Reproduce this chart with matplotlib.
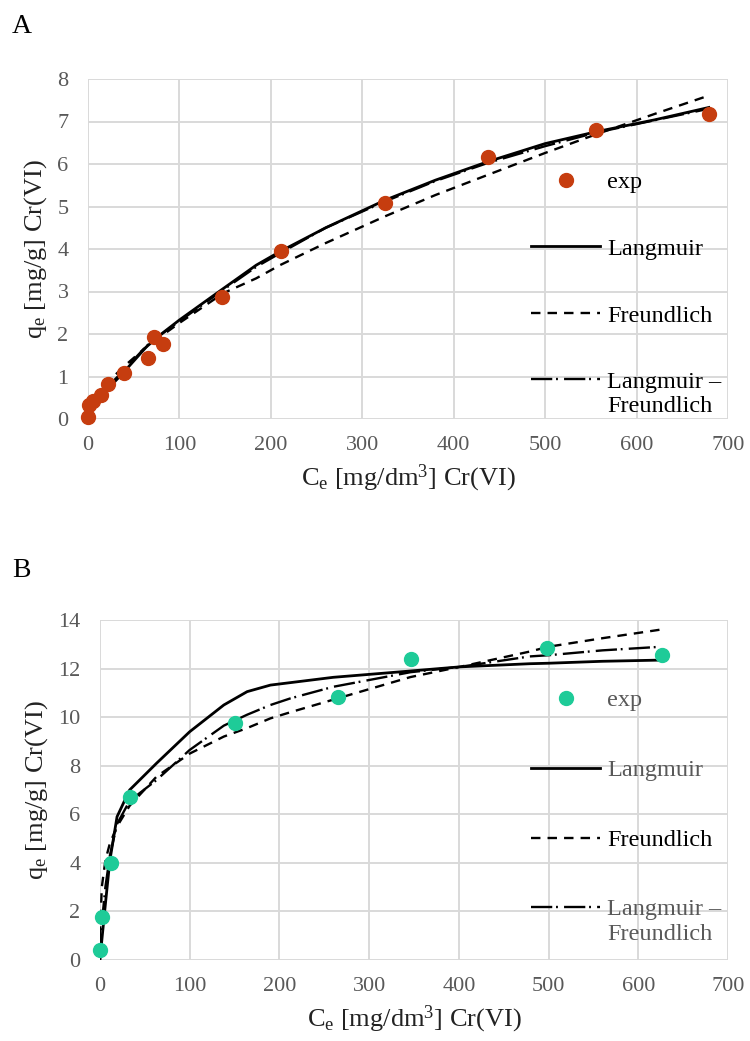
import matplotlib
matplotlib.use("Agg")
import matplotlib.pyplot as plt
from matplotlib.legend_handler import HandlerLine2D

plt.rcParams["font.family"] = ["Liberation Serif", "DejaVu Serif"]
plt.rcParams["mathtext.fontset"] = "custom"
plt.rcParams["mathtext.rm"] = "Liberation Serif"
plt.rcParams["mathtext.it"] = "Liberation Serif:italic"

# --- panel A: experimental points ---
ce_a = [0, 1.5, 6, 14, 22, 39, 66, 72, 82, 146.5, 210.8, 325, 438, 556, 679]
qe_a = [0.05, 0.33, 0.43, 0.57, 0.82, 1.09, 1.43, 1.92, 1.76, 2.86, 3.95, 5.08, 6.16, 6.81, 7.17]

# --- panel A: model curves ---
cfit_a = [0, 6, 14, 28, 39, 64, 82, 100, 148, 184, 210, 260, 325, 380, 438, 500, 556, 620, 679]
lang_a = [0.08, 0.25, 0.47, 0.85, 1.10, 1.70, 2.03, 2.33, 3.07, 3.62, 3.94, 4.50, 5.15, 5.62, 6.06, 6.48, 6.76, 7.04, 7.33]
freu_a = [0.10, 0.37, 0.64, 1.00, 1.23, 1.70, 1.98, 2.26, 2.96, 3.31, 3.62, 4.14, 4.77, 5.27, 5.75, 6.26, 6.70, 7.18, 7.61]
lf_a = [0.10, 0.30, 0.52, 0.90, 1.14, 1.72, 2.02, 2.30, 3.04, 3.58, 3.90, 4.50, 5.12, 5.60, 6.03, 6.42, 6.74, 7.03, 7.30]

# --- panel B: experimental points ---
ce_b = [0, 1.9, 11.9, 33.4, 150, 265.7, 346.3, 498.7, 626]
qe_b = [0.41, 1.78, 3.98, 6.70, 9.77, 10.84, 12.38, 12.86, 12.56]

# --- panel B: model curves ---
cfit_b = [0, 2, 6, 11, 19, 33, 63, 100, 138, 164, 190, 212, 260, 346, 401, 479, 500, 560, 626]
lang_b = [0.0, 0.8, 2.3, 4.1, 5.9, 7.0, 8.1, 9.4, 10.5, 11.05, 11.32, 11.42, 11.64, 11.90, 12.07, 12.20, 12.22, 12.30, 12.35]
freu_b = [1.0, 3.0, 4.1, 4.8, 5.5, 6.35, 7.55, 8.5, 9.2, 9.55, 9.95, 10.2, 10.72, 11.65, 12.07, 12.7, 12.9, 13.25, 13.61]
lf_b = [0.2, 1.5, 3.0, 4.3, 5.6, 6.55, 7.41, 8.65, 9.65, 10.1, 10.5, 10.77, 11.25, 11.85, 12.07, 12.5, 12.55, 12.75, 12.9]

x_ticks = [0, 100, 200, 300, 400, 500, 600, 700]
y_ticks_a = [0, 1, 2, 3, 4, 5, 6, 7, 8]
y_ticks_b = [0, 2, 4, 6, 8, 10, 12, 14]

labels = ["exp", "Langmuir", "Freundlich", "Langmuir –\nFreundlich"]

GRID = "#d9d9d9"
TICK = "#595959"
LABEL = "#222222"
RED = "#c63d0f"
TEAL = "#1ecb98"
LEG_FS = 17.5


class TopLineHandler(HandlerLine2D):
    """Put the legend line next to the first line of a two-line label."""

    def create_artists(self, legend, orig_handle, xdescent, ydescent,
                       width, height, fontsize, trans):
        artists = super().create_artists(legend, orig_handle, xdescent, ydescent,
                                         width, height, fontsize, trans)
        for a in artists:
            a.set_ydata([y + 0.6 * fontsize for y in a.get_ydata()])
        return artists


def style_axes(ax, yticks):
    ax.set_xlim(0, 700)
    ax.set_ylim(yticks[0], yticks[-1])
    ax.set_xticks(x_ticks)
    ax.set_yticks(yticks)
    ax.grid(True, color=GRID, lw=1.4)
    ax.set_axisbelow(True)
    for s in ax.spines.values():
        s.set_visible(False)
    ax.tick_params(length=0, labelsize=16, colors=TICK)
    ax.tick_params(axis="x", pad=12)
    ax.tick_params(axis="y", pad=14)
    ax.set_xlabel(r"C$_\mathrm{e}$ [mg/dm$^3$] Cr(VI)", fontsize=19, color=LABEL, labelpad=6)
    ax.set_ylabel(r"q$_\mathrm{e}$ [mg/g] Cr(VI)", fontsize=19, color=LABEL, labelpad=6)


def draw_panel(ax, ce, qe, cfit, lang, freu, lf, color):
    pts, = ax.plot(ce, qe, "o", ms=10, color=color, mec=color, clip_on=False, zorder=5)
    l1, = ax.plot(cfit, lang, "-", color="black", lw=2.0)
    l2, = ax.plot(cfit, freu, color="black", lw=1.7, dashes=(4, 3))
    l3, = ax.plot(cfit, lf, color="black", lw=1.7, dashes=(9, 1.6, 0.8, 2.6))
    return [pts, l1, l2, l3]


fig = plt.figure(figsize=(7.5, 10.41), dpi=100)
ax_a = fig.add_axes([88 / 750, 1 - 419 / 1041, 640 / 750, 340 / 1041])
ax_b = fig.add_axes([100 / 750, 1 - 960 / 1041, 628 / 750, 340 / 1041])

style_axes(ax_a, y_ticks_a)
style_axes(ax_b, y_ticks_b)

h_a = draw_panel(ax_a, ce_a, qe_a, cfit_a, lang_a, freu_a, lf_a, RED)
h_b = draw_panel(ax_b, ce_b, qe_b, cfit_b, lang_b, freu_b, lf_b, TEAL)

leg_kw = dict(loc="upper left", bbox_transform=fig.transFigure, frameon=False,
              fontsize=LEG_FS, handlelength=2.84, handletextpad=0.29,
              borderpad=0, borderaxespad=0, numpoints=1)
leg_a = ax_a.legend(h_a, labels, bbox_to_anchor=(531 / 750, 1 - 171 / 1041),
                    labelspacing=1.85, handler_map={h_a[3]: TopLineHandler()}, **leg_kw)
for t in leg_a.get_texts():
    t.set_color("black")
leg_b = ax_b.legend(h_b, labels, bbox_to_anchor=(531 / 750, 1 - 689 / 1041),
                    labelspacing=1.98, handler_map={h_b[3]: TopLineHandler()}, **leg_kw)
for t, c in zip(leg_b.get_texts(), [TICK, TICK, "black", TICK]):
    t.set_color(c)

fig.text(12 / 750, 1 - 33 / 1041, "A", fontsize=20, color="black")
fig.text(12 / 750, 1 - 577 / 1041, "B", fontsize=20, color="black")

fig.savefig("out.png", dpi=100)
